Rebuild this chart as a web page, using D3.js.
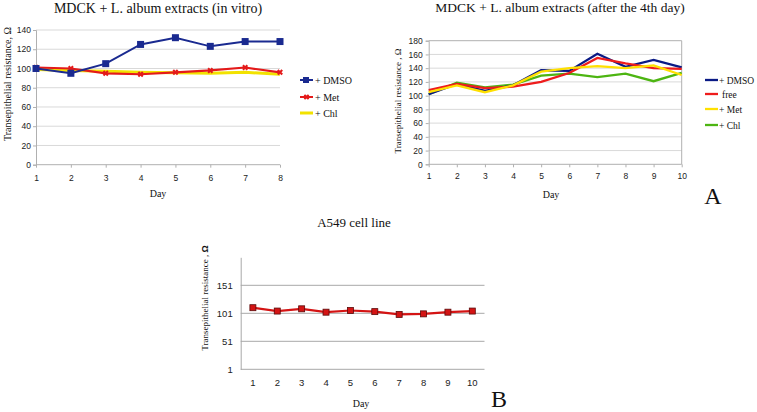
<!DOCTYPE html>
<html><head><meta charset="utf-8">
<script src="https://cdn.jsdelivr.net/npm/d3@7"></script>
<style>
body{margin:0;background:#fff;}
svg{display:block;}
.serif{font-family:"Liberation Serif","Times New Roman",serif;fill:#111;}
.tick text{font-family:"Liberation Sans",Arial,sans-serif;fill:#222;}
</style></head>
<body><svg id="c" width="757" height="412"></svg>
<script>
// ---- Data ----
const days8 = [1,2,3,4,5,6,7,8];
const invitroDMSO = [100,95,105,125,132,123,128,128];
const invitroMet  = [101,100,95,94,96,98,101,96];
const invitroChl  = [99,98,97,96,95.5,95,96,94];
const invitroTicks = [0,20,40,60,80,100,120,140];

const days10 = [1,2,3,4,5,6,7,8,9,10];
const afterDMSO = [102,117,107,115,137,136,161,142,152,141];
const afterFree = [108,117,111,113,120,133,155,147,140,139];
const afterMet  = [105,115,105,115,135,140,143,140,144,130];
const afterChl  = [102,119,112,116,129,132,127,132,121,133];
const afterTicks = [0,20,40,60,80,100,120,140,160,180];

const a549 = [111,105,109,103,106,104,99,100,103,105];
const a549Ticks = [1,51,101,151];

const svg = d3.select("#c");
const gridCol = "#d9d9d9";
const axisCol = "#b0b0b0";

// ---- Chart 1 ----
(function(){
  const x = d3.scalePoint().domain(days8).range([36,280]);
  const y = d3.scaleLinear().domain([0,140]).range([164.7,30]);
  const g = svg.append("g");
  g.selectAll("line.grid").data(invitroTicks).join("line")
    .attr("x1",36).attr("x2",280).attr("y1",d=>y(d)).attr("y2",d=>y(d))
    .attr("stroke",d=>d===0?axisCol:gridCol).attr("stroke-width",1);
  const ya = g.append("g").attr("transform","translate(36,0)")
    .call(d3.axisLeft(y).tickValues(invitroTicks).tickSize(3).tickPadding(2));
  ya.select(".domain").attr("stroke",axisCol);
  ya.selectAll(".tick line").attr("stroke",axisCol);
  ya.selectAll("text").attr("font-size",8.5);
  const xa = g.append("g").attr("transform","translate(0,164.7)")
    .call(d3.axisBottom(x).tickSize(3).tickPadding(7));
  xa.select(".domain").remove();
  xa.selectAll(".tick line").attr("stroke",axisCol);
  xa.selectAll("text").attr("font-size",8.5);

  const line = d3.line().x((d,i)=>x(days8[i])).y(d=>y(d));
  g.append("path").datum(invitroChl).attr("d",line).attr("fill","none").attr("stroke","#f2e200").attr("stroke-width",3);
  g.append("path").datum(invitroMet).attr("d",line).attr("fill","none").attr("stroke","#e41a1a").attr("stroke-width",2.2);
  g.selectAll("path.met").data(invitroMet).join("path")
    .attr("transform",(d,i)=>`translate(${x(days8[i])},${y(d)}) rotate(45)`)
    .attr("d",d3.symbol(d3.symbolCross,22)).attr("fill","#e41a1a");
  g.append("path").datum(invitroDMSO).attr("d",line).attr("fill","none").attr("stroke","#1a2a90").attr("stroke-width",2);
  g.selectAll("rect.dm").data(invitroDMSO).join("rect")
    .attr("x",(d,i)=>x(days8[i])-3.5).attr("y",d=>y(d)-3.5).attr("width",7).attr("height",7).attr("fill","#1a2a90");

  g.append("text").attr("class","serif").attr("x",158).attr("y",13).attr("text-anchor","middle").attr("font-size",14).text("MDCK + L. album extracts (in vitro)");
  g.append("text").attr("class","serif").attr("transform","translate(11,84) rotate(-90)").attr("text-anchor","middle").attr("font-size",10).text("Transepithelial resistance, Ω");
  g.append("text").attr("class","serif").attr("x",158).attr("y",197).attr("text-anchor","middle").attr("font-size",10).text("Day");

  const leg = [["+ DMSO","#1a2a90","sq"],["+ Met","#e41a1a","star"],["+ Chl","#f2e200","none"]];
  const ly = [80,97,113];
  leg.forEach((l,i)=>{
    g.append("line").attr("x1",300).attr("x2",313).attr("y1",ly[i]).attr("y2",ly[i]).attr("stroke",l[1]).attr("stroke-width",l[2]==="none"?3:2);
    if(l[2]==="sq") g.append("rect").attr("x",303).attr("y",ly[i]-3).attr("width",6).attr("height",6).attr("fill",l[1]);
    if(l[2]==="star") g.append("path").attr("transform",`translate(306.5,${ly[i]}) rotate(45)`).attr("d",d3.symbol(d3.symbolCross,20)).attr("fill",l[1]);
    g.append("text").attr("class","serif").attr("x",315).attr("y",ly[i]+3.5).attr("font-size",10).text(l[0]);
  });
})();

// ---- Chart 2 ----
(function(){
  const x = d3.scalePoint().domain(days10).range([428.7,681.7]);
  const y = d3.scaleLinear().domain([0,180]).range([164.3,40.7]);
  const g = svg.append("g");
  g.selectAll("line.grid").data(afterTicks).join("line")
    .attr("x1",428.7).attr("x2",681.7).attr("y1",d=>y(d)).attr("y2",d=>y(d))
    .attr("stroke",d=>(d===0||d===180)?axisCol:gridCol);
  g.append("line").attr("x1",681.7).attr("x2",681.7).attr("y1",40.7).attr("y2",164.3).attr("stroke",axisCol);
  const ya = g.append("g").attr("transform","translate(428.7,0)")
    .call(d3.axisLeft(y).tickValues(afterTicks).tickSize(3).tickPadding(3));
  ya.select(".domain").attr("stroke",axisCol);
  ya.selectAll(".tick line").attr("stroke",axisCol);
  ya.selectAll("text").attr("font-size",8.5);
  const xa = g.append("g").attr("transform","translate(0,164.3)")
    .call(d3.axisBottom(x).tickSize(3).tickPadding(6));
  xa.select(".domain").remove();
  xa.selectAll(".tick line").attr("stroke",axisCol);
  xa.selectAll("text").attr("font-size",8.5);

  const line = d3.line().x((d,i)=>x(days10[i])).y(d=>y(d));
  const series = [[afterChl,"#4db512"],[afterDMSO,"#0a1a85"],[afterFree,"#ee1c1c"],[afterMet,"#ffe000"]];
  series.forEach(s=>{
    g.append("path").datum(s[0]).attr("d",line).attr("fill","none").attr("stroke",s[1]).attr("stroke-width",2.3);
  });

  g.append("text").attr("class","serif").attr("x",560).attr("y",12).attr("text-anchor","middle").attr("font-size",13.5).text("MDCK +  L. album extracts (after the 4th day)");
  g.append("text").attr("class","serif").attr("transform","translate(401,101) rotate(-90)").attr("text-anchor","middle").attr("font-size",9).text("Transepithelial resistance , Ω");
  g.append("text").attr("class","serif").attr("x",551).attr("y",198).attr("text-anchor","middle").attr("font-size",10).text("Day");
  g.append("text").attr("class","serif").attr("x",713).attr("y",204).attr("text-anchor","middle").attr("font-size",24).text("A");

  const leg = [["+ DMSO","#0a1a85"],["free","#ee1c1c"],["+ Met","#ffe000"],["+ Chl","#4db512"]];
  const ly = [80,94,109,125];
  leg.forEach((l,i)=>{
    g.append("line").attr("x1",705).attr("x2",718).attr("y1",ly[i]).attr("y2",ly[i]).attr("stroke",l[1]).attr("stroke-width",2.3);
    g.append("text").attr("class","serif").attr("x",l[0]==="free"?722:719).attr("y",ly[i]+3.5).attr("font-size",9.5).text(l[0]);
  });
})();

// ---- Chart 3 ----
(function(){
  const x = d3.scaleBand().domain(days10).range([240.7,484.5]);
  const y = d3.scaleLinear().domain([1,201]).range([369.3,257.3]);
  const g = svg.append("g");
  g.selectAll("line.grid").data(a549Ticks).join("line")
    .attr("x1",240.7).attr("x2",484.5).attr("y1",d=>y(d)).attr("y2",d=>y(d))
    .attr("stroke","#a8a8a8");
  const ya = g.append("g").attr("transform","translate(240.7,0)")
    .call(d3.axisLeft(y).tickValues(a549Ticks).tickSize(0).tickPadding(8));
  ya.select(".domain").attr("stroke","#a8a8a8");
  ya.selectAll("text").attr("font-size",9.5);
  const xa = g.append("g").attr("transform","translate(0,369.3)")
    .call(d3.axisBottom(x).tickSize(0).tickPadding(10));
  xa.select(".domain").remove();
  xa.selectAll("text").attr("font-size",9.5);

  const line = d3.line().x((d,i)=>x(days10[i])+x.bandwidth()/2).y(d=>y(d));
  g.append("path").datum(a549).attr("d",line).attr("fill","none").attr("stroke","#d41414").attr("stroke-width",2.2);
  g.selectAll("rect.pt").data(a549).join("rect")
    .attr("x",(d,i)=>x(days10[i])+x.bandwidth()/2-3).attr("y",d=>y(d)-3)
    .attr("width",6).attr("height",6).attr("fill","#d41414").attr("stroke","#5a0a0a").attr("stroke-width",0.8);

  g.append("text").attr("class","serif").attr("x",354).attr("y",227).attr("text-anchor","middle").attr("font-size",13).text("A549 cell line");
  g.append("text").attr("class","serif").attr("transform","translate(208,298) rotate(-90)").attr("text-anchor","middle").attr("font-size",9)
    .html('Transepithelial resistance , <tspan font-weight="bold" font-family="Liberation Sans, Arial, sans-serif">Ω</tspan>');
  g.append("text").attr("class","serif").attr("x",361).attr("y",407).attr("text-anchor","middle").attr("font-size",10).text("Day");
  g.append("text").attr("class","serif").attr("x",499).attr("y",407).attr("text-anchor","middle").attr("font-size",24).text("B");
})();
</script></body></html>
